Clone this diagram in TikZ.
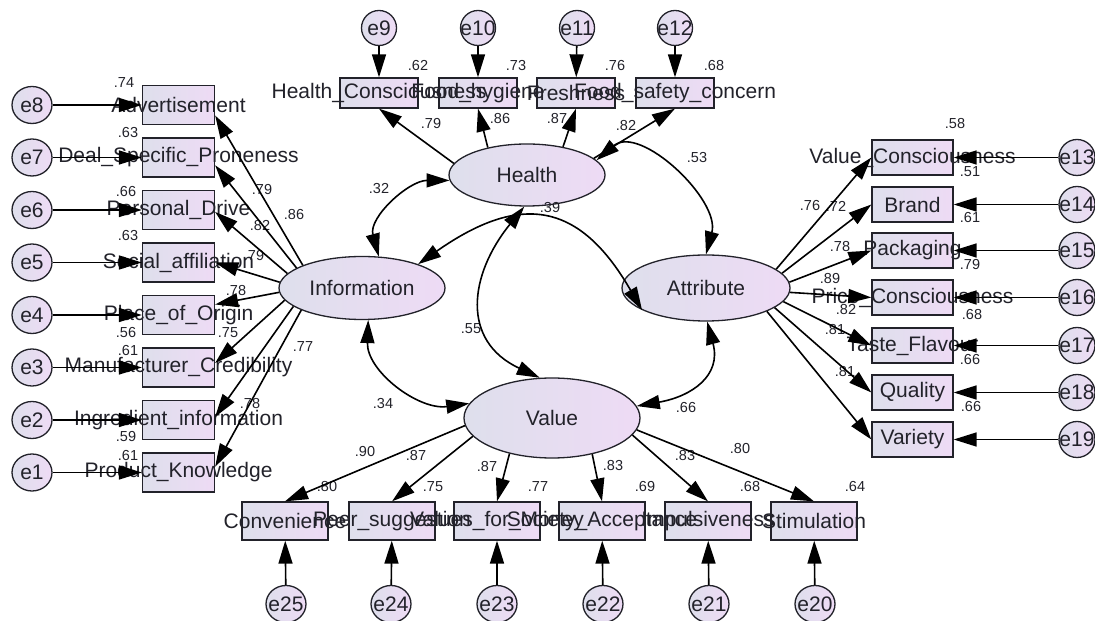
\documentclass[tikz,border=0pt]{standalone}
\usepackage{fontspec}
\setmainfont{Liberation Sans}
\usetikzlibrary{arrows.meta,shapes.geometric}
\definecolor{fillL}{RGB}{222,223,236}
\definecolor{fillR}{RGB}{238,219,245}
\definecolor{ink}{RGB}{34,34,42}

\begin{document}
\begin{tikzpicture}[x=1pt,y=1pt,
  >={Triangle[length=23pt,width=14pt]},
  shp/.style={draw=ink, line width=1.3pt, left color=fillL, right color=fillR, inner sep=0pt},
  obsL/.style={shp, rectangle, minimum width=72pt, minimum height=39pt},
  obsT/.style={shp, rectangle, minimum width=78pt, minimum height=30pt},
  obsR/.style={shp, rectangle, minimum width=81pt, minimum height=35pt},
  obsB/.style={shp, rectangle, minimum width=86pt, minimum height=38pt},
  lat/.style={shp, ellipse},
  errA/.style={shp, ellipse, minimum width=40pt, minimum height=37pt},
  errB/.style={shp, ellipse, minimum width=35pt, minimum height=35pt},
  lbl/.style={font=\fontsize{21}{24}\selectfont, text=ink, inner sep=0pt},
  num/.style={font=\fontsize{14.5}{16}\selectfont, text=ink, inner sep=0pt},
  link/.style={draw=black, line width=1.6pt, ->},
  cov/.style={draw=black, line width=1.6pt, <->}
]
\fill[white] (0,0) rectangle (1095,621);
\useasboundingbox (0,0) rectangle (1095,621);

% latent variables
\node[lat, minimum width=156pt, minimum height=62pt] (health) at (527,446) {};
\node[lat, minimum width=166pt, minimum height=63pt] (info) at (362,333) {};
\node[lat, minimum width=168pt, minimum height=66pt] (attr) at (706,333) {};
\node[lat, minimum width=176pt, minimum height=80pt] (value) at (552,203) {};

% Information indicators (left) with their errors
\foreach \n/\y/\e in {adv/516/e8, deal/463.5/e7, pers/411/e6, soci/358.5/e5,
                      plac/306/e4, manu/253.5/e3, ingr/201/e2, prod/148.5/e1} {
  \node[obsL] (\n) at (178.5,\y) {};
  \node[errA] (\e) at (32,\y) {};
}
% Health indicators (top)
\foreach \n/\x/\e/\ex in {hc/379/e9/379, fh/478/e10/478, fr/576/e11/577, fs/675/e12/675} {
  \node[obsT] (\n) at (\x,528) {};
  \node[errB] (\e) at (\ex,593) {};
}
% Attribute indicators (right)
\foreach \n/\y/\e in {vc/463.5/e13, brand/416.5/e14, pack/370.5/e15, price/323.5/e16,
                      taste/275.5/e17, qual/228.5/e18, var/181.5/e19} {
  \node[obsR] (\n) at (912.5,\y) {};
  \node[errB, minimum width=36pt, minimum height=36pt] (\e) at (1077,\y) {};
}
% Value indicators (bottom)
\foreach \n/\x/\e/\ex in {conv/285/e25/286, peer/392/e24/391, vfm/497/e23/497,
                          soca/602/e22/603, imp/708/e21/709, stim/814/e20/815} {
  \node[obsB] (\n) at (\x,100) {};
  \node[errA] (\e) at (\ex,17) {};
}

% texts
\node[lbl] (health-t) at (health) {Health};
\node[lbl] (info-t) at (info) {Information};
\node[lbl] (attr-t) at (attr) {Attribute};
\node[lbl] (value-t) at (value) {Value};
\foreach \n/\t in {adv/Advertisement, deal/Deal\_Specific\_Proneness, pers/Personal\_Drive,
   soci/Social\_affiliation, plac/Place\_of\_Origin, manu/Manufacturer\_Credibility,
   ingr/Ingredient\_information, prod/Product\_Knowledge,
   hc/Health\_Consciousness, fh/Food\_hygiene, fr/Freshness, fs/Food\_safety\_concern,
   vc/Value\_Consciousness, brand/Brand, pack/Packaging, price/Price\_Consciousness,
   taste/Taste\_Flavour, qual/Quality, var/Variety,
   conv/Convenience, peer/Peer\_suggestion, vfm/Values\_for\_Money,
   soca/Society\_Acceptance, imp/Impulsiveness, stim/Stimulation}
  \node[lbl] (\n-t) at (\n) {\t};
\foreach \e in {1,...,25}
  \node[lbl] (e\e-t) at (e\e) {e\e};

% squared multiple correlations, loadings and correlations
\foreach \x/\y/\t [count=\i] in {
  124/538/.74, 128/488/.63, 126/429/.66, 128/385/.63, 126/288/.56, 128/270/.61, 126/184/.59, 128/165/.61,
  262/431/.79, 294/406/.86, 260/395/.82, 254/365/.79, 236/330/.78, 228/288/.75, 303/274/.77, 250/217/.78,
  418/555/.62, 516/555/.73, 615/555/.76, 714/555/.68,
  431/497/.79, 500/502/.86, 557/502/.87, 626/495/.82,
  697/463/.53, 379/432/.32, 550/413/.39, 471/292/.55, 383/217/.34, 686/213/.66,
  955/497/.58, 970/449/.51, 970/403/.61, 970/356/.79, 972/306/.68, 970/261/.66, 971/214/.66,
  810/415/.76, 836/415/.72, 840/374/.78, 830/342/.89, 846/311/.82, 835/291/.81, 845/249/.81,
  365/169/.90, 416/165/.87, 487/154/.87, 613/155/.83, 685/165/.83, 740/172/.80,
  327/134/.80, 433/134/.75, 538/134/.77, 645/134/.69, 750/134/.68, 855/134/.64}
  \node[num] (v\i) at (\x,\y) {\t};

% error terms
\foreach \e/\n in {e8/adv, e7/deal, e6/pers, e5/soci, e4/plac, e3/manu, e2/ingr, e1/prod,
                   e9/hc, e10/fh, e11/fr, e12/fs,
                   e13/vc, e14/brand, e15/pack, e16/price, e17/taste, e18/qual, e19/var,
                   e25/conv, e24/peer, e23/vfm, e22/soca, e21/imp, e20/stim}
  \draw[link] (\e) -- (\n);

% factor loadings
\foreach \a/\n/\b in {159/adv/-16, 163/deal/-12, 169/pers/-3, 176/soci/0,
                      183/plac/16, 189/manu/7, 195/ingr/5, 200/prod/9}
  \draw[link] (info.\a) -- (\n.\b);
\foreach \a/\n in {171/hc, 145/fh, 38/fr, 14/fs}
  \draw[link] (health.\a) -- (\n.south);
\foreach \a/\n in {15/vc, 11/brand, 4/pack, -3/price, -10/taste, -16/qual, -21/var}
  \draw[link] (attr.\a) -- (\n.west);
\foreach \a/\n in {185/conv, 193/peer, 220/vfm, -42/soca, -12/imp, -8/stim}
  \draw[link] (value.\a) -- (\n.north);

% correlations between factors
\draw[cov] (health.184) to[out=180,in=105] (info.62);
\draw[cov] (health.265) to[out=231,in=155,looseness=1.3] (value.107);
\draw[cov] (info.281) to[out=268,in=188] (value.170);
\draw[cov] (value.8) to[out=10,in=285,looseness=1.3] (attr.272);
\draw[cov] (health.12) to[out=40,in=75] (attr.90);
\draw[cov] (info.23) to[out=35,in=120,looseness=1.4] (attr.199);
\end{tikzpicture}
\end{document}
